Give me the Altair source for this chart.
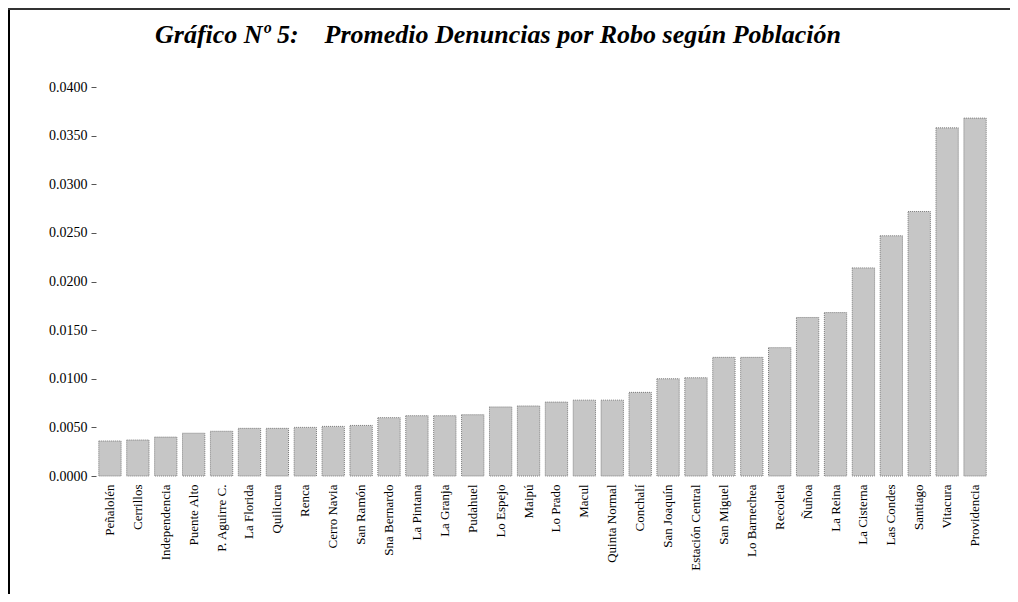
import altair as alt
import pandas as pd

comunas = ["Peñalolén", "Cerrillos", "Independencia", "Puente Alto", "P. Aguirre C.",
           "La Florida", "Quilicura", "Renca", "Cerro Navia", "San Ramón",
           "Sna Bernardo", "La Pintana", "La Granja", "Pudahuel", "Lo Espejo",
           "Maipú", "Lo Prado", "Macul", "Quinta Normal", "Conchalí",
           "San Joaquín", "Estación Central", "San Miguel", "Lo Barnechea", "Recoleta",
           "Ñuñoa", "La Reina", "La Cisterna", "Las Condes", "Santiago",
           "Vitacura", "Providencia"]
promedio = [0.0036, 0.0037, 0.0040, 0.0044, 0.0046,
            0.0049, 0.0049, 0.0050, 0.0051, 0.0052,
            0.0060, 0.0062, 0.0062, 0.0063, 0.0071,
            0.0072, 0.0076, 0.0078, 0.0078, 0.0086,
            0.0100, 0.0101, 0.0122, 0.0122, 0.0132,
            0.0163, 0.0168, 0.0214, 0.0247, 0.0272,
            0.0358, 0.0368]
y_ticks = [0.0, 0.005, 0.01, 0.015, 0.02, 0.025, 0.03, 0.035, 0.04]
titulo = ["Gráfico Nº 5:\u00a0\u00a0\u00a0\u00a0Promedio Denuncias por Robo según Población"]

df = pd.DataFrame({"comuna": comunas, "promedio": promedio})
df_t = pd.DataFrame({"t": titulo})

FONT = "'Liberation Serif', 'Times New Roman', 'DejaVu Serif', serif"

bars = alt.Chart(df).mark_bar(
    fill="#c6c6c6", stroke="#7a7a7a", strokeWidth=1, strokeDash=[1, 1]
).encode(
    x=alt.X("comuna:N", sort=comunas,
            scale=alt.Scale(paddingInner=0.2, paddingOuter=0.1),
            axis=alt.Axis(title=None, labelAngle=270, labelFont=FONT, labelFontSize=13,
                          labelColor="black", labelPadding=8, ticks=False, domain=False,
                          labelLimit=200)),
    y=alt.Y("promedio:Q", scale=alt.Scale(domain=[0, 0.04], nice=False),
            axis=alt.Axis(title=None, values=y_ticks, format=".4f", labelFont=FONT,
                          labelFontSize=14, labelColor="black", tickSize=5,
                          tickColor="#555", labelPadding=4, domain=False, grid=False)),
)

title_mark = alt.Chart(df_t).mark_text(
    font=FONT, fontSize=26, fontStyle="italic", fontWeight="bold", color="black",
    align="center", baseline="alphabetic"
).encode(text="t:N", x=alt.value(402), y=alt.value(-44))

frame_left = alt.Chart(df_t).mark_rule(color="black", strokeWidth=2).encode(
    x=alt.value(-87), y=alt.value(-78), y2=alt.value(510))
frame_top = alt.Chart(df_t).mark_rule(color="#333", strokeWidth=2).encode(
    x=alt.value(-88), x2=alt.value(914), y=alt.value(-78))

chart = alt.layer(bars, title_mark, frame_left, frame_top).properties(
    width=893, height=389,
    background="white",
    autosize=alt.AutoSizeParams(type="none"),
    padding={"left": 88, "top": 79, "right": 21, "bottom": 118},
).configure_view(stroke="transparent", strokeWidth=0)

chart.save("out.html", embed_options={"renderer": "svg", "actions": False})
